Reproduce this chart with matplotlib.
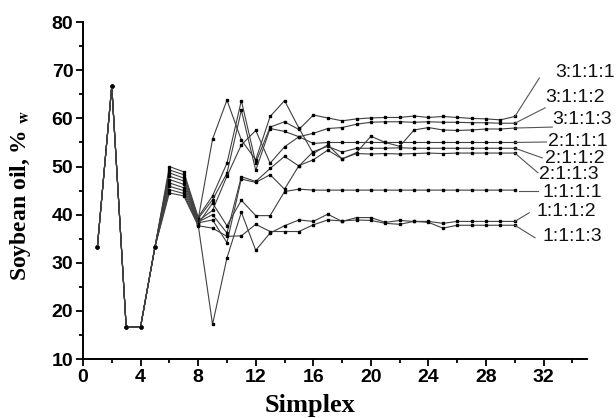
import numpy as np
import matplotlib.pyplot as plt

# simplex number
simplex = list(range(1, 31))
start = [33.3, 66.7, 16.7, 16.7, 33.3]

labels = ["3:1:1:1", "3:1:1:2", "3:1:1:3",
          "2:1:1:1", "2:1:1:2", "2:1:1:3",
          "1:1:1:1", "1:1:1:2", "1:1:1:3"]

# values from simplex 6 to 30
oil = {
    "3:1:1:1": [50.0, 48.9, 39.5, 43.9, 50.7, 63.7, 50.8, 58.2, 59.3, 57.7, 60.7, 60.1, 59.5,
                59.9, 60.1, 60.2, 60.2, 60.5, 60.2, 60.4, 60.2, 60.0, 59.9, 59.7, 60.4],
    "3:1:1:2": [49.3, 48.3, 39.2, 43.1, 48.6, 61.7, 49.2, 57.9, 57.3, 56.2, 56.9, 57.9, 58.1,
                58.8, 59.2, 59.3, 59.3, 59.2, 59.3, 59.2, 59.2, 59.1, 59.1, 59.0, 59.0],
    "3:1:1:3": [48.7, 47.6, 39.0, 55.7, 63.8, 55.5, 51.4, 60.4, 63.7, 58.0, 52.7, 54.5, 51.6,
                52.9, 56.3, 55.0, 54.2, 57.6, 58.1, 57.6, 57.5, 57.6, 57.8, 57.8, 58.0],
    "2:1:1:1": [48.0, 47.0, 38.7, 40.9, 48.0, 54.5, 57.5, 50.7, 54.1, 56.2, 54.8, 55.0, 55.0,
                55.0, 55.0, 55.0, 55.0, 55.0, 55.0, 55.0, 55.0, 55.0, 55.0, 55.0, 55.0],
    "2:1:1:2": [47.3, 46.3, 38.5, 40.0, 36.2, 47.9, 46.9, 49.6, 52.1, 50.1, 53.1, 54.2, 53.0,
                53.8, 53.8, 53.8, 53.9, 53.8, 53.8, 53.8, 53.8, 53.8, 53.8, 53.8, 53.8],
    "2:1:1:3": [46.6, 45.6, 38.3, 38.9, 34.2, 47.4, 46.7, 48.3, 45.3, 50.2, 51.4, 53.4, 51.6,
                52.7, 52.6, 52.7, 52.6, 52.7, 52.8, 52.7, 52.8, 52.8, 52.8, 52.8, 52.8],
    "1:1:1:1": [45.9, 45.0, 38.1, 42.4, 37.7, 43.0, 39.8, 39.8, 44.8, 45.3, 45.1, 45.1, 45.1,
                45.1, 45.1, 45.1, 45.1, 45.1, 45.1, 45.1, 45.1, 45.1, 45.1, 45.1, 45.1],
    "1:1:1:2": [45.2, 44.4, 37.9, 17.2, 31.0, 40.5, 32.6, 36.2, 37.7, 38.9, 38.6, 40.1, 38.6,
                39.4, 39.4, 38.4, 38.8, 38.6, 38.6, 38.2, 38.6, 38.6, 38.6, 38.6, 38.6],
    "1:1:1:3": [44.5, 43.9, 37.7, 37.2, 35.5, 35.6, 38.0, 36.5, 36.5, 36.5, 37.9, 38.9, 38.7,
                38.9, 38.8, 38.2, 38.0, 38.6, 38.4, 37.2, 37.8, 37.8, 37.8, 37.8, 37.8],
}

# label text position and end of the leader line
label_pos = [(32.8, 69.6), (32.1, 64.4), (32.6, 59.7), (32.3, 55.1), (32.1, 51.6),
             (31.7, 48.3), (31.9, 44.7), (31.5, 40.6), (31.9, 35.4)]
leader_end = [(31.7, 68.4), (32.1, 62.2), (32.6, 58.2), (32.2, 55.1), (31.9, 51.8),
              (31.6, 48.7), (31.6, 44.9), (31.0, 40.4), (31.4, 35.2)]

plt.rcParams["mathtext.fontset"] = "stix"

fig = plt.figure(figsize=(6.16, 4.18), dpi=100)
ax = fig.add_axes([0.1347, 0.141, 0.818, 0.806])

for name in labels:
    y = start + oil[name]
    ax.plot(simplex, y, color="#404040", lw=0.8, marker="s", ms=1.5,
            mfc="black", mec="black")

for name, (tx, ty), (ex, ey) in zip(labels, label_pos, leader_end):
    if name == "1:1:1:1":
        ax.plot([30.3, ex], [ey, ey], color="#555555", lw=0.8)
    else:
        ax.plot([30, ex], [oil[name][-1], ey], color="#555555", lw=0.8)
    ax.text(tx, ty, name, fontsize=14, family="Liberation Sans",
            ha="left", va="center", color="#111111")

ax.set_xlim(0, 35)
ax.set_ylim(10, 80)
ax.set_xticks(np.arange(0, 33, 4))
ax.set_xticks(np.arange(2, 35, 4), minor=True)
ax.set_yticks(np.arange(10, 81, 10))
ax.set_yticks(np.arange(15, 80, 10), minor=True)
for lab in ax.get_xticklabels() + ax.get_yticklabels():
    lab.set_fontweight("bold")
    lab.set_family("Liberation Sans")
    lab.set_fontsize(14)
ax.tick_params(which="major", length=5, width=1.3, pad=2)
ax.tick_params(which="minor", length=3, width=1.3)
for s in ["top", "right"]:
    ax.spines[s].set_visible(False)
for s in ["left", "bottom"]:
    ax.spines[s].set_linewidth(1.4)

ax.set_xlabel("Simplex", fontsize=19, fontweight="bold", family="Liberation Serif")
ax.xaxis.set_label_coords(0.45, -0.105)
ax.set_ylabel(r"Soybean oil, % $_{\mathbf{w}}$", fontsize=17, fontweight="bold",
              family="Liberation Serif")
ax.yaxis.set_label_coords(-0.1, 0.485)

fig.savefig("out.png", dpi=100)
